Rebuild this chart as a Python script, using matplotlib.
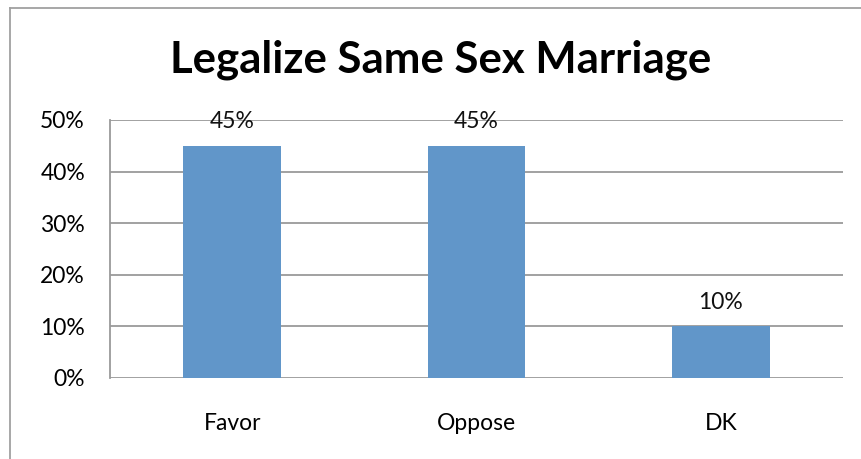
import matplotlib
matplotlib.use("Agg")
from matplotlib import pyplot as plt
from matplotlib.lines import Line2D

categories = ["Favor", "Oppose", "DK"]
shares = [0.45, 0.45, 0.10]
yticks = [0.0, 0.1, 0.2, 0.3, 0.4, 0.5]
ytick_labels = ["0%", "10%", "20%", "30%", "40%", "50%"]
title = "Legalize Same Sex Marriage"

W, H = 862, 459
BAR = "#6196C9"
GRID = "#9A9A9A"
FS = 16.5

plt.rcParams["font.family"] = ["Lato", "DejaVu Sans"]

fig = plt.figure(figsize=(W / 100, H / 100), dpi=100)
ax = fig.add_axes([110 / W, 81 / H, 733 / W, 258 / H])

x = list(range(len(categories)))
ax.bar(x, shares, width=0.4, color=BAR, zorder=3)

for xi, v in zip(x, shares):
    ax.annotate("{:.0%}".format(v), (xi, v), xytext=(0, 10),
                textcoords="offset points", ha="center", va="bottom",
                fontsize=FS, color="#111111")

ax.set_xlim(-0.5, 2.5)
ax.set_ylim(0, 0.5)
ax.set_yticks(yticks)
ax.set_yticklabels(ytick_labels, fontsize=FS)
ax.set_xticks(x)
ax.set_xticklabels(categories, fontsize=FS)
ax.tick_params(axis="y", length=0, pad=18)
ax.tick_params(axis="x", length=0, pad=25)
ax.yaxis.grid(True, color=GRID, linewidth=1.3, zorder=0)

for side in ["top", "right", "bottom"]:
    ax.spines[side].set_visible(False)
ax.spines["left"].set_color(GRID)
ax.spines["left"].set_linewidth(1.3)

fig.text(441 / W, 1 - 60 / H, title, ha="center", va="center",
         fontsize=31.5, fontweight="bold")

# chart frame: only the left and top edges fall inside the image
fig.add_artist(Line2D([10 / W, 10 / W], [0, 1 - 8 / H], transform=fig.transFigure,
                      color="#A0A0A0", linewidth=1.3))
fig.add_artist(Line2D([10 / W, 1], [1 - 8 / H, 1 - 8 / H], transform=fig.transFigure,
                      color="#A0A0A0", linewidth=1.3))

fig.savefig("out.png", dpi=100)
